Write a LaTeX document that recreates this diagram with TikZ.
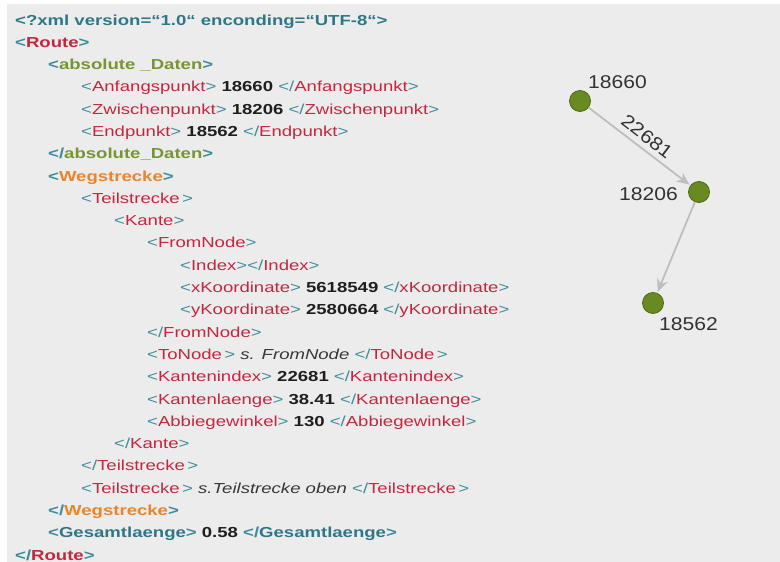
\documentclass[tikz,border=0pt]{standalone}
\usepackage{fontspec}
\setmainfont[FakeStretch=1.28]{Liberation Sans}
\newfontfamily\graphfont[FakeStretch=1.14]{Liberation Sans}
\usetikzlibrary{arrows.meta}
\definecolor{bgc}{RGB}{237,236,237}
\definecolor{brk}{RGB}{62,140,155}
\definecolor{tealb}{RGB}{45,120,135}
\definecolor{tagr}{RGB}{196,38,62}
\definecolor{tagg}{RGB}{118,150,48}
\definecolor{tago}{RGB}{236,132,40}
\definecolor{valc}{RGB}{30,30,30}
\definecolor{itc}{RGB}{55,55,55}
\definecolor{nodef}{RGB}{104,138,34}
\definecolor{nodel}{RGB}{78,104,24}
\definecolor{edgec}{RGB}{190,190,192}
\definecolor{glab}{RGB}{50,50,50}
\newcommand\xmlo[2][tagr]{\textcolor{brk}{<}\textcolor{#1}{#2}\textcolor{brk}{>}}
\newcommand\xmlc[2][tagr]{\textcolor{brk}{</}\textcolor{#1}{#2}\textcolor{brk}{>}}
\newcommand\xmlv[1]{\textbf{\textcolor{valc}{#1}}}
\newcommand\xmli[1]{\textit{\textcolor{itc}{#1}}}
\begin{document}
\begin{tikzpicture}[x=1pt,y=-1pt,
  codeline/.style={anchor=base west,inner sep=0pt,font=\fontsize{14.5}{17}\selectfont},
  gnode/.style={circle,fill=nodef,draw=nodel,line width=0.8pt,minimum size=21pt,inner sep=0pt},
  glabel/.style={inner sep=0pt,text=glab,font=\graphfont\fontsize{18.5}{22}\selectfont},
  gedge/.style={draw=edgec,line width=1.8pt,-{Stealth[length=13pt,width=11pt]},shorten >=1pt}]
\useasboundingbox (0,0) rectangle (780,562);
\fill[white] (0,0) rectangle (780,562);
\fill[bgc] (7,4) rectangle (780,562);
% code lines
\node[codeline] (l1)  at (15,25.0)  {\textbf{\textcolor{tealb}{<?xml version=“1.0“ enconding=“UTF-8“>}}};
\node[codeline] (l2)  at (15,47.3)  {\textbf{\xmlo{Route}}};
\node[codeline] (l3)  at (48,69.6)  {\textbf{\xmlo[tagg]{absolute \_Daten}}};
\node[codeline] (l4)  at (81,91.9)  {\xmlo{Anfangspunkt} \xmlv{18660} \xmlc{Anfangspunkt}};
\node[codeline] (l5)  at (81,114.2) {\xmlo{Zwischenpunkt} \xmlv{18206} \xmlc{Zwischenpunkt}};
\node[codeline] (l6)  at (81,136.5) {\xmlo{Endpunkt} \xmlv{18562} \xmlc{Endpunkt}};
\node[codeline] (l7)  at (48,158.7) {\textbf{\xmlc[tagg]{absolute\_Daten}}};
\node[codeline] (l8)  at (48,181.0) {\textbf{\xmlo[tago]{Wegstrecke}}};
\node[codeline] (l9)  at (81,203.3) {\xmlo{Teilstrecke\,}};
\node[codeline] (l10) at (114,225.6) {\xmlo{Kante}};
\node[codeline] (l11) at (147,247.9) {\xmlo{FromNode}};
\node[codeline] (l12) at (180,270.2) {\xmlo{Index}\xmlc{Index}};
\node[codeline] (l13) at (180,292.5) {\xmlo{xKoordinate} \xmlv{5618549} \xmlc{xKoordinate}};
\node[codeline] (l14) at (180,314.8) {\xmlo{yKoordinate} \xmlv{2580664} \xmlc{yKoordinate}};
\node[codeline] (l15) at (147,337.1) {\xmlc{FromNode}};
\node[codeline] (l16) at (147,359.4) {\xmlo{ToNode\,} \xmli{s. FromNode} \xmlc{ToNode\,}};
\node[codeline] (l17) at (147,381.7) {\xmlo{Kantenindex} \xmlv{22681} \xmlc{Kantenindex}};
\node[codeline] (l18) at (147,404.0) {\xmlo{Kantenlaenge} \xmlv{38.41} \xmlc{Kantenlaenge}};
\node[codeline] (l19) at (147,426.3) {\xmlo{Abbiegewinkel} \xmlv{130} \xmlc{Abbiegewinkel}};
\node[codeline] (l20) at (114,448.6) {\xmlc{Kante}};
\node[codeline] (l21) at (81,470.9) {\xmlc{Teilstrecke\,}};
\node[codeline] (l22) at (81,493.1) {\xmlo{Teilstrecke\,} \xmli{s.Teilstrecke oben} \xmlc{Teilstrecke\,}};
\node[codeline] (l23) at (48,515.4) {\textbf{\xmlc[tago]{Wegstrecke}}};
\node[codeline] (l24) at (48,537.7) {\textbf{\xmlo[tealb]{Gesamtlaenge}} \xmlv{0.58} \textbf{\xmlc[tealb]{Gesamtlaenge}}};
\node[codeline] (l25) at (15,560.0) {\textbf{\xmlc{Route}}};
% graph
\node[gnode] (n1) at (580,101) {};
\node[gnode] (n2) at (699,192) {};
\node[gnode] (n3) at (653,303) {};
\node[glabel,anchor=base west] (t1) at (588,88) {18660};
\node[glabel,anchor=base east] (t2) at (678,200) {18206};
\node[glabel,anchor=base west] (t3) at (659,330) {18562};
\draw[gedge] (n1) -- node[sloped,above=5pt,glabel] (e1) {22681} (n2);
\draw[gedge] (n2) -- (n3);
\end{tikzpicture}
\end{document}
